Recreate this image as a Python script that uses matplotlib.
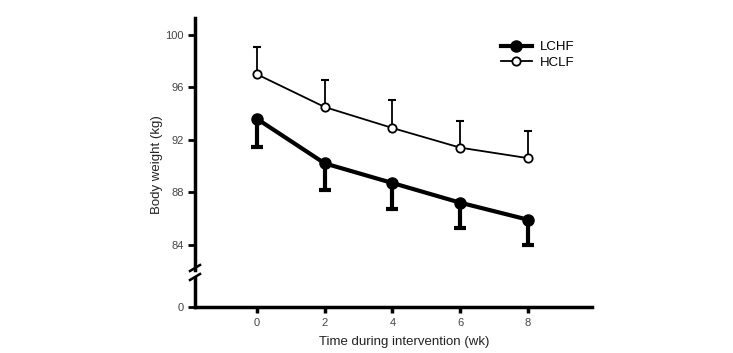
import numpy as np
import matplotlib.pyplot as plt
from matplotlib.lines import Line2D

plt.rcParams['font.family'] = ['Liberation Sans', 'DejaVu Sans']

# data
weeks = [0, 2, 4, 6, 8]
lchf = [93.6, 90.2, 88.7, 87.2, 85.9]
lchf_sd = [2.15, 2.0, 2.0, 1.9, 1.9]
hclf = [97.0, 94.5, 92.9, 91.4, 90.6]
hclf_sd = [2.1, 2.1, 2.1, 2.0, 2.1]

fig = plt.figure(figsize=(7.33, 3.53), dpi=100)
ax = fig.add_axes([0.266, 0.2351, 0.5416, 0.714])
axb = fig.add_axes([0.266, 0.1303, 0.5416, 0.0822], sharex=ax)


def hide_caps_at_points(eb, yvals):
    # one-sided error bars: drop the cap that sits on the data point
    for cap in eb.lines[1]:
        if np.allclose(cap.get_ydata(), yvals):
            cap.set_visible(False)


zero = [0] * len(weeks)
# LCHF: error bars going down, thick line, filled circles
eb = ax.errorbar(weeks, lchf, yerr=[lchf_sd, zero], fmt='none', ecolor='black',
                 elinewidth=3, capsize=4.2, capthick=3, zorder=2)
hide_caps_at_points(eb, lchf)
ax.plot(weeks, lchf, color='black', lw=3, marker='o', ms=8, mfc='black',
        mec='black', zorder=3, label='LCHF')
# HCLF: error bars going up, thin line, open circles
eb = ax.errorbar(weeks, hclf, yerr=[zero, hclf_sd], fmt='none', ecolor='black',
                 elinewidth=1.3, capsize=3, capthick=1.5, zorder=2)
hide_caps_at_points(eb, hclf)
ax.plot(weeks, hclf, color='black', lw=1.3, marker='o', ms=6, mfc='white',
        mec='black', mew=1.3, zorder=4, label='HCLF')

ax.set_xlim(-1.83, 9.89)
ax.set_ylim(82.06, 101.3)
ax.set_yticks([84, 88, 92, 96, 100])
for s in ['top', 'right', 'bottom']:
    ax.spines[s].set_visible(False)
ax.spines['left'].set_linewidth(2.5)
ax.tick_params(axis='x', which='both', bottom=False, labelbottom=False)
ax.tick_params(axis='y', length=5, width=2, labelsize=8, labelcolor='#444444', pad=3)

axb.set_ylim(0, 1)
axb.set_yticks([0])
axb.set_xticks(weeks)
for s in ['top', 'right']:
    axb.spines[s].set_visible(False)
axb.spines['left'].set_linewidth(2.5)
axb.spines['bottom'].set_linewidth(2.5)
axb.tick_params(axis='y', length=5, width=2, labelsize=8, labelcolor='#444444', pad=3)
axb.tick_params(axis='x', length=4, width=2.5, labelsize=8, labelcolor='#444444', pad=4)

fig.text(404 / 733, 1 - 342 / 353, 'Time during intervention (wk)', fontsize=9.5,
         color='#222222', ha='center', va='center')
fig.text(157 / 733, 1 - 165 / 353, 'Body weight (kg)', rotation=90, fontsize=9.5,
         color='#222222', ha='center', va='center')

# break marks on the y axis
for yc in [268, 277]:
    x0, x1 = 190 / 733, 200 / 733
    y0, y1 = (353 - yc - 3) / 353, (353 - yc + 3) / 353
    fig.add_artist(Line2D([x0, x1], [y0, y1], color='black', lw=1.8))

handles = [Line2D([], [], color='black', lw=3, marker='o', ms=8),
           Line2D([], [], color='black', lw=1.3, marker='o', ms=6, mfc='white', mew=1.3)]
ax.legend(handles, ['LCHF', 'HCLF'], loc='upper left', bbox_to_anchor=(0.683, 0.884),
          bbox_transform=fig.transFigure, frameon=False, fontsize=9.5,
          handlelength=2.4, labelspacing=0.25, handletextpad=0.55,
          borderpad=0, borderaxespad=0)

fig.savefig('out.png', dpi=100)
